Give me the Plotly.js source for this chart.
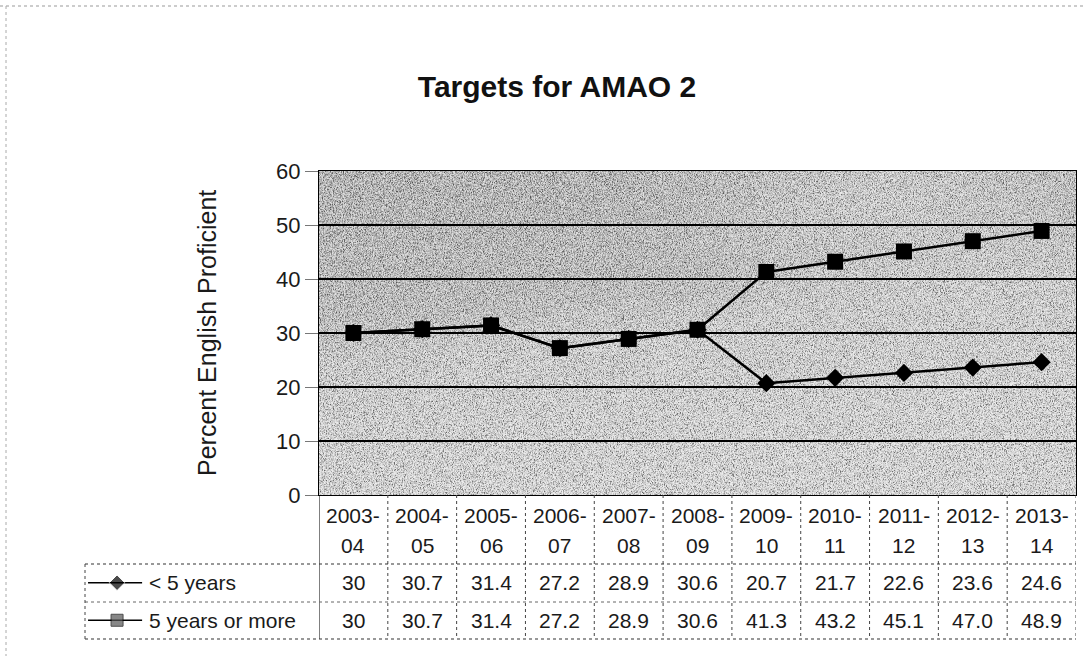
<!DOCTYPE html>
<html>
<head>
<meta charset="utf-8">
<script src="https://cdn.plot.ly/plotly-3.0.1.min.js"></script>
<style>html,body{margin:0;padding:0;background:#fff;}#chart{width:1085px;height:656px;}</style>
</head>
<body>
<div id="chart"></div>
<script>
// ---- data ----
const categories = ["2003-04","2004-05","2005-06","2006-07","2007-08","2008-09","2009-10","2010-11","2011-12","2012-13","2013-14"];
const under5 = [30, 30.7, 31.4, 27.2, 28.9, 30.6, 20.7, 21.7, 22.6, 23.6, 24.6];
const fivePlus = [30, 30.7, 31.4, 27.2, 28.9, 30.6, 41.3, 43.2, 45.1, 47.0, 48.9];
const seriesNames = ["< 5 years", "5 years or more"];
const yTicks = [0, 10, 20, 30, 40, 50, 60];
const chartTitle = "Targets for AMAO 2";
const yTitle = "Percent English Proficient";

// ---- geometry helpers ----
const W = 1085, H = 656;
const PL = 319, PR = 1076, PT = 171, PB = 495;
const px = x => x / W;
const py = y => 1 - y / H;
const FONT = "Liberation Sans, Arial, Helvetica, sans-serif";
const TXT = "#1a1a1a";

// background texture (scanned grey fill)
const svg = `<svg xmlns='http://www.w3.org/2000/svg' width='757' height='324'>
<defs>
<linearGradient id='g' x1='0' y1='0' x2='0.3' y2='1'>
<stop offset='0' stop-color='#a4a4a4'/><stop offset='0.42' stop-color='#b0b0b0'/><stop offset='0.58' stop-color='#c9c9c9'/><stop offset='1' stop-color='#d3d3d3'/>
</linearGradient>
<radialGradient id='r' cx='0.75' cy='0.1' r='0.35'>
<stop offset='0' stop-color='#ffffff' stop-opacity='0.35'/><stop offset='1' stop-color='#ffffff' stop-opacity='0'/>
</radialGradient>
<filter id='b' x='0' y='0' width='100%' height='100%'>
<feTurbulence type='fractalNoise' baseFrequency='1.3 0.7' numOctaves='2' seed='4'/>
<feColorMatrix type='matrix' values='0 0 0 0 0  0 0 0 0 0  0 0 0 0 0  3.4 0 0 0 -1.45'/>
</filter>
<filter id='w' x='0' y='0' width='100%' height='100%'>
<feTurbulence type='fractalNoise' baseFrequency='1.1 0.6' numOctaves='2' seed='9'/>
<feColorMatrix type='matrix' values='0 0 0 0 1  0 0 0 0 1  0 0 0 0 1  0 3.4 0 0 -1.2'/>
</filter>
</defs>
<rect width='757' height='324' fill='url(#g)'/>
<rect width='757' height='324' fill='url(#r)'/>
<rect width='757' height='324' filter='url(#b)' opacity='0.5'/>
<rect width='757' height='324' filter='url(#w)' opacity='0.65'/>
</svg>`;
const bgURI = "data:image/svg+xml;charset=utf-8," + encodeURIComponent(svg);

const fmt = (v, i) => (i === 0 ? String(v) : v.toFixed(1));

// ---- traces ----
const traces = [
  {
    x: categories, y: under5, name: seriesNames[0], type: "scatter", mode: "lines+markers",
    line: {color: "#000", width: 2.5},
    marker: {symbol: "diamond", size: 14, color: "#000"},
    showlegend: false, hoverinfo: "x+y"
  },
  {
    x: categories, y: fivePlus, name: seriesNames[1], type: "scatter", mode: "lines+markers",
    line: {color: "#000", width: 2.5},
    marker: {symbol: "square", size: 16, color: "#000"},
    showlegend: false, hoverinfo: "x+y"
  },
  // legend keys inside the data table
  {
    x: [0.013, 0.137, 0.244], y: [1.5, 1.5, 1.5], xaxis: "x2", yaxis: "y2",
    mode: "lines+markers", line: {color: "#000", width: 1.5},
    marker: {symbol: "diamond", size: [0, 12, 0], color: "#000"},
    showlegend: false, hoverinfo: "skip"
  },
  {
    x: [0.013, 0.137, 0.244], y: [0.5, 0.5, 0.5], xaxis: "x2", yaxis: "y2",
    mode: "lines+markers", line: {color: "#000", width: 1.5},
    marker: {symbol: "square", size: [0, 12, 0], color: "#555", line: {color: "#000", width: 1}},
    showlegend: false, hoverinfo: "skip"
  }
];

// ---- table annotations ----
const annotations = [];
categories.forEach((c, i) => {
  const parts = c.split("-");
  annotations.push({x: i, xref: "x", y: py(515), yref: "paper", text: parts[0] + "-", showarrow: false,
    font: {size: 21, color: TXT, family: FONT}, xanchor: "center", yanchor: "middle"});
  annotations.push({x: i, xref: "x", y: py(545), yref: "paper", text: parts[1], showarrow: false,
    font: {size: 21, color: TXT, family: FONT}, xanchor: "center", yanchor: "middle"});
  annotations.push({x: i, xref: "x", y: py(582), yref: "paper", text: fmt(under5[i], i), showarrow: false,
    font: {size: 21, color: TXT, family: FONT}, xanchor: "center", yanchor: "middle"});
  annotations.push({x: i, xref: "x", y: py(620), yref: "paper", text: fmt(fivePlus[i], i), showarrow: false,
    font: {size: 21, color: TXT, family: FONT}, xanchor: "center", yanchor: "middle"});
});
annotations.push({x: px(147), xref: "paper", y: py(582), yref: "paper", text: seriesNames[0], showarrow: false,
  font: {size: 21, color: TXT, family: FONT}, xanchor: "left", yanchor: "middle"});
annotations.push({x: px(147), xref: "paper", y: py(620), yref: "paper", text: seriesNames[1], showarrow: false,
  font: {size: 21, color: TXT, family: FONT}, xanchor: "left", yanchor: "middle"});
// y axis title
annotations.push({x: px(207), xref: "paper", y: py((PT + PB) / 2), yref: "paper", text: yTitle, showarrow: false,
  textangle: -90, font: {size: 25, color: TXT, family: FONT}, xanchor: "center", yanchor: "middle"});

// ---- table lines ----
const shapes = [];
for (let i = 0; i <= categories.length; i++) {
  const solid = (i === 0);
  shapes.push({type: "line", xref: "x", yref: "paper", x0: i - 0.5, x1: i - 0.5, y0: py(PB), y1: py(639),
    line: {color: solid ? "#000" : "#444", width: 1, dash: solid ? "solid" : "dot"}});
}
shapes.push({type: "line", xref: "paper", yref: "paper", x0: px(85), x1: px(PR), y0: py(564), y1: py(564),
  line: {color: "#333", width: 1.2, dash: "dot"}});
shapes.push({type: "line", xref: "paper", yref: "paper", x0: px(85), x1: px(PR), y0: py(602), y1: py(602),
  line: {color: "#666", width: 1, dash: "dot"}});
shapes.push({type: "line", xref: "paper", yref: "paper", x0: px(85), x1: px(PR), y0: py(639), y1: py(639),
  line: {color: "#333", width: 1.2, dash: "dot"}});
shapes.push({type: "line", xref: "paper", yref: "paper", x0: px(85), x1: px(85), y0: py(564), y1: py(639),
  line: {color: "#444", width: 1, dash: "dot"}});
// faint scan frame
shapes.push({type: "line", xref: "paper", yref: "paper", x0: 0, x1: 1, y0: py(6), y1: py(6),
  line: {color: "#999", width: 1, dash: "dot"}});
shapes.push({type: "line", xref: "paper", yref: "paper", x0: px(6), x1: px(6), y0: py(6), y1: py(656),
  line: {color: "#aaa", width: 1, dash: "dot"}});

const layout = {
  width: W, height: H,
  margin: {l: 0, r: 0, t: 0, b: 0},
  paper_bgcolor: "#fff",
  plot_bgcolor: "rgba(0,0,0,0)",
  font: {family: FONT, color: TXT},
  title: {
    text: "<b>" + chartTitle + "</b>",
    font: {size: 30, color: "#111", family: FONT},
    x: 557 / W, xanchor: "center", xref: "container",
    y: 1 - 86 / H, yanchor: "middle", yref: "container"
  },
  xaxis: {
    type: "category", domain: [px(PL), px(PR)], range: [-0.5, categories.length - 0.5],
    showticklabels: false, ticks: "", showgrid: false, zeroline: false,
    showline: true, mirror: true, linecolor: "#000", linewidth: 1.2, fixedrange: true
  },
  yaxis: {
    domain: [py(PB), py(PT)], range: [0, 60], tickvals: yTicks, ticktext: yTicks.map(String),
    showgrid: true, gridcolor: "#000", gridwidth: 1.5, zeroline: false,
    ticks: "outside", ticklen: 13, tickcolor: "#777", tickwidth: 1,
    tickfont: {size: 22, color: TXT, family: FONT},
    showline: true, mirror: true, linecolor: "#000", linewidth: 1.2, fixedrange: true
  },
  xaxis2: {domain: [px(85), px(PL)], range: [0, 1], anchor: "y2", visible: false, fixedrange: true},
  yaxis2: {domain: [py(639), py(564)], range: [0, 2], anchor: "x2", visible: false, fixedrange: true},
  images: [{
    source: bgURI, xref: "paper", yref: "paper",
    x: px(PL), y: py(PT), sizex: px(PR) - px(PL), sizey: py(PT) - py(PB),
    xanchor: "left", yanchor: "top", sizing: "stretch", layer: "below"
  }],
  annotations: annotations,
  shapes: shapes,
  showlegend: false
};

Plotly.newPlot("chart", traces, layout, {displayModeBar: false, staticPlot: true});
</script>
</body>
</html>
